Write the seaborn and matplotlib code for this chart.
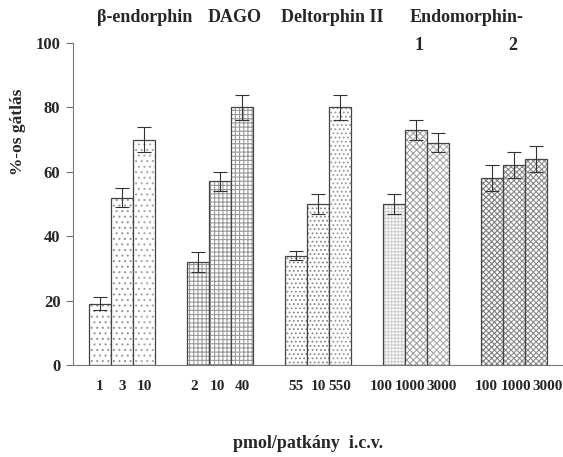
import matplotlib
matplotlib.use("Agg")
import matplotlib.pyplot as plt
import matplotlib.colors as mcolors
import seaborn as sns
import pandas as pd
import numpy as np

groups = ["β-endorphin", "DAGO", "Deltorphin II", "Endomorphin-1", "Endomorphin-2"]
doses = [["1", "3", "10"], ["2", "10", "40"], ["55", "10", "550"],
         ["100", "1000", "3000"], ["100", "1000", "3000"]]
values = [[19, 52, 70], [32, 57, 80], [34, 50, 80], [50, 73, 69], [58, 62, 64]]
errors = [[2, 3, 4], [3, 3, 4], [1.5, 3, 4], [3, 3, 3], [4, 4, 4]]
hatches = [["...", "...", "..."],
           ["++++", "++++", "++++"],
           ["....", "....", "...."],
           ["+++++", "xxxxx", "xxxxx"],
           ["xxxxxx", "xxxxxx", "xxxxxx"]]
hatch_colors = [["#9a9a9a", "#9a9a9a", "#a8a8a8"],
                ["#9a9a9a", "#9a9a9a", "#9a9a9a"],
                ["#888888", "#888888", "#999999"],
                ["#cfcfcf", "#a0a0a0", "#aaaaaa"],
                ["#808080", "#8c8c8c", "#8c8c8c"]]
# label offsets (px) for crowded groups
label_offsets = [[0, 0, 0], [-4, -3, 0], [0, 0, 0], [-13, -6, 4], [-6, 2, 12]]

sns.set_style("white")
plt.rcParams["font.family"] = ["Liberation Serif", "DejaVu Serif"]
plt.rcParams["font.weight"] = "bold"
plt.rcParams["hatch.linewidth"] = 0.8

rows = []
for gi, g in enumerate(groups):
    for j in range(3):
        rows.append({"group": g, "slot": str(j), "value": values[gi][j]})
df = pd.DataFrame(rows)

fig = plt.figure(figsize=(5.63, 4.57), dpi=100)
ax = fig.add_axes([73 / 563, 1 - 365 / 457, 1 - 73 / 563, (365 - 43) / 457])

W = 3 * 22 / 98
sns.barplot(data=df, x="group", y="value", hue="slot", order=groups,
            hue_order=["0", "1", "2"], palette=["white"] * 3, width=W,
            errorbar=None, edgecolor="#444444", linewidth=0.9, legend=False, ax=ax)

bw = W / 3
for j, cont in enumerate(ax.containers):
    for gi, p in enumerate(cont.patches):
        p.set_facecolor("white")
        p.set_edgecolor("#444444")
        p.set_hatch(hatches[gi][j])
        p._hatch_color = mcolors.to_rgba(hatch_colors[gi][j])

xs, ys, es, labels, lxs = [], [], [], [], []
for gi in range(len(groups)):
    for j in range(3):
        x = gi + (j - 1) * bw
        xs.append(x)
        lxs.append(x + label_offsets[gi][j] / 98)
        ys.append(values[gi][j])
        es.append(errors[gi][j])
        labels.append(doses[gi][j])
ax.errorbar(xs, ys, yerr=es, fmt="none", ecolor="#333333", elinewidth=0.8,
            capsize=5, capthick=0.8)

ax.set_xlim(-0.5, 4.5)
ax.set_ylim(0, 100)
ax.set_yticks([0, 20, 40, 60, 80, 100])
ax.set_yticklabels(["0", "20", "40", "60", "80", "100"], fontsize=12, fontweight="bold")
ax.set_xticks(lxs)
ax.set_xticklabels(labels, fontsize=11, fontweight="bold")
ax.set_xticks([0.5, 1.5, 2.5, 3.5], minor=True)
ax.tick_params(axis="x", which="major", length=0, pad=11)
ax.tick_params(axis="x", which="minor", length=6, width=0.8, color="#777777", direction="out")
ax.tick_params(axis="y", length=5, width=0.8, color="#777777", direction="out", left=True, pad=4)
for s in ["top", "right"]:
    ax.spines[s].set_visible(False)
for s in ["left", "bottom"]:
    ax.spines[s].set_color("#777777")
    ax.spines[s].set_linewidth(0.8)

ax.set_xlabel("pmol/patkány  i.c.v.", fontsize=13, fontweight="bold")
ax.xaxis.set_label_coords((308 - 73) / 490, (365 - 443) / 322)
ax.xaxis.label.set_va("center")
ax.set_ylabel("%-os gátlás", fontsize=12.5, fontweight="bold")
ax.yaxis.set_label_coords((18 - 73) / 490, (365 - 132) / 322)
ax.yaxis.label.set_va("center")

fs = 13
fig.text(97 / 563, 1 - 18 / 457, "β-endorphin", fontsize=fs, fontweight="bold", va="center", ha="left")
fig.text(208 / 563, 1 - 18 / 457, "DAGO", fontsize=fs, fontweight="bold", va="center", ha="left")
fig.text(281 / 563, 1 - 18 / 457, "Deltorphin II", fontsize=fs, fontweight="bold", va="center", ha="left")
fig.text(410 / 563, 1 - 18 / 457, "Endomorphin-", fontsize=fs, fontweight="bold", va="center", ha="left")
fig.text(419 / 563, 1 - 45 / 457, "1", fontsize=fs, fontweight="bold", va="center", ha="center")
fig.text(513 / 563, 1 - 45 / 457, "2", fontsize=fs, fontweight="bold", va="center", ha="center")

fig.savefig("out.png", dpi=100)
